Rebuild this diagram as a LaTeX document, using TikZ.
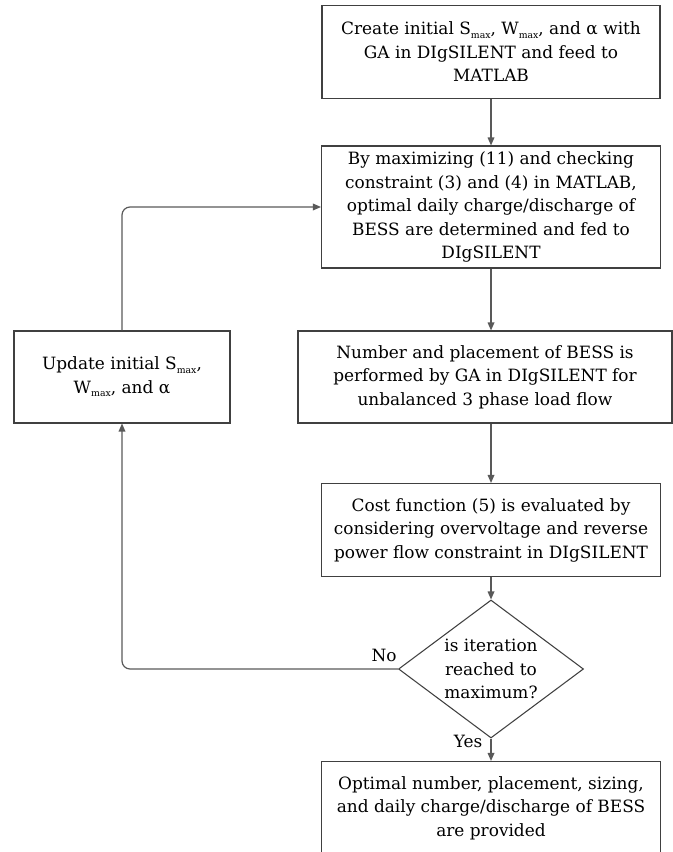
\documentclass[tikz,border=0pt]{standalone}
\usepackage{fontspec}
\setmainfont{DejaVu Serif}
\usetikzlibrary{shapes.geometric,arrows.meta}
\newcommand\lowidx[1]{\raisebox{-0.4ex}{\scriptsize #1}}
\tikzset{
	stepbox/.style={draw=black!75,line width=0.8pt,rectangle,align=center,inner sep=2pt,
			font=\fontsize{12.7}{17.6}\selectfont},
	askbox/.style={stepbox,diamond,inner sep=-12pt},
	flow/.style={draw=black!65,line width=0.9pt,-{Triangle[length=6pt,width=5pt]}},
	tag/.style={font=\fontsize{12.7}{14}\selectfont,inner sep=1pt}
}
\begin{document}
\begin{tikzpicture}[x=0.75pt,y=-0.75pt]
	\useasboundingbox (0,0) rectangle (673,852);
	% main column
	\node[stepbox,minimum width=253.5pt,minimum height=69.75pt] (create) at (491,52)
		{Create initial S\lowidx{max}, W\lowidx{max}, and α with\\GA in DIgSILENT and feed to\\MATLAB};
	\node[stepbox,minimum width=254.25pt,minimum height=91.5pt] (optimize) at (491,207)
		{By maximizing (11) and checking\\constraint (3) and (4) in MATLAB,\\optimal daily charge/discharge of\\BESS are determined and fed to\\DIgSILENT};
	\node[stepbox,minimum width=280.5pt,minimum height=69pt] (place) at (485,377)
		{Number and placement of BESS is\\performed by GA in DIgSILENT for\\unbalanced 3 phase load flow};
	\node[stepbox,minimum width=254.25pt,minimum height=69.75pt] (cost) at (491,530)
		{Cost function (5) is evaluated by\\considering overvoltage and reverse\\power flow constraint in DIgSILENT};
	\node[askbox,minimum width=138.75pt,minimum height=103.5pt] (decide) at (491,669)
		{is iteration\\reached to\\maximum?};
	\node[stepbox,minimum width=254.25pt,minimum height=69.75pt] (final) at (491,808)
		{Optimal number, placement, sizing,\\and daily charge/discharge of BESS\\are provided};
	% feedback
	\node[stepbox,minimum width=162pt,minimum height=69pt] (update) at (122,377)
		{Update initial S\lowidx{max},\\W\lowidx{max}, and α};

	\draw[flow] (create) -- (optimize);
	\draw[flow] (optimize.south) -- (optimize.south |- place.north);
	\draw[flow] (cost.north |- place.south) -- (cost.north);
	\draw[flow] (cost) -- (decide);
	\draw[flow] (decide) -- (final);
	\draw[flow,rounded corners=6pt] (decide.west) -- (decide.west -| update.south) -- (update.south);
	\draw[flow,rounded corners=6pt] (update.north) -- (update.north |- optimize.west) -- (optimize.west);

	\node[tag] (no) at (384,655) {No};
	\node[tag] (yes) at (468,741) {Yes};
\end{tikzpicture}
\end{document}
